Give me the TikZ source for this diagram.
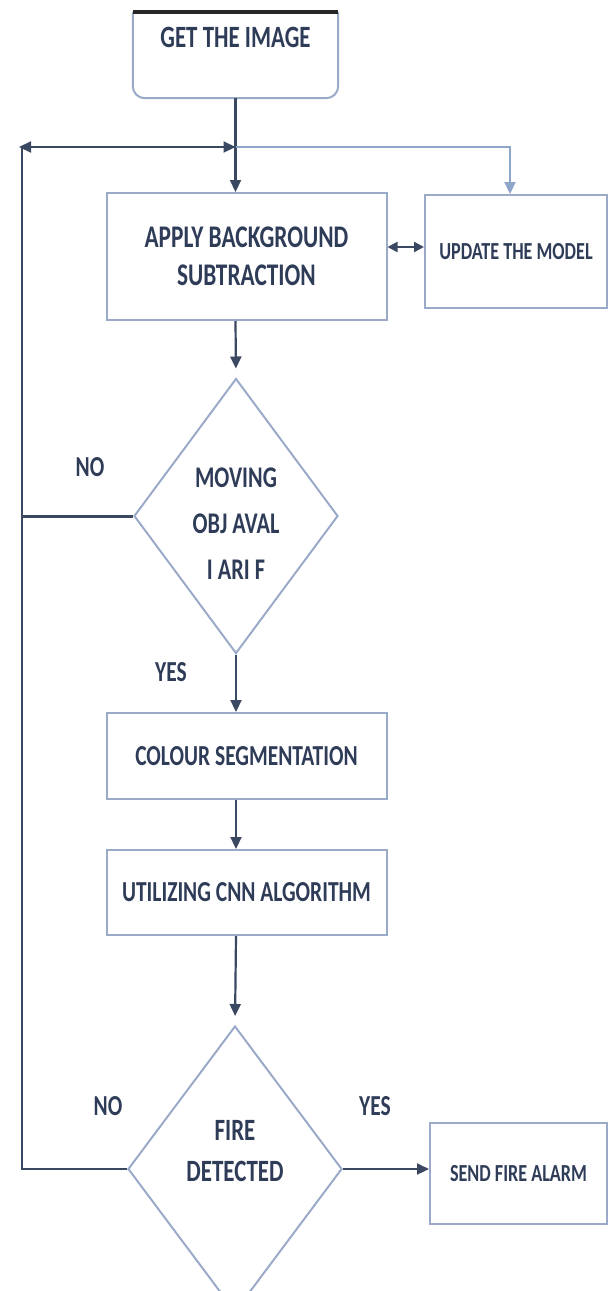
\documentclass[tikz,border=0pt]{standalone}
\usepackage{fontspec}
\setmainfont{Carlito}[FakeStretch=0.74]
\usetikzlibrary{shapes.geometric,arrows.meta,positioning}
\definecolor{boxblue}{HTML}{9AAAC8}
\definecolor{textnavy}{HTML}{2F3C58}
\definecolor{linedark}{HTML}{3B4862}
\definecolor{linelight}{HTML}{8EA6C9}

\begin{document}
\begin{tikzpicture}[x=1pt,y=-1pt,
		txt/.style={text=textnavy,font=\bfseries\fontsize{29}{32}\selectfont,align=center,inner sep=0pt},
		sidetxt/.style={txt,font=\bfseries\fontsize{24.5}{28}\selectfont},
		box/.style={txt,draw=boxblue,line width=2pt,minimum width=280pt,minimum height=86pt},
		decision/.style={draw=boxblue,line width=2pt,shape=diamond,inner sep=0pt},
		link/.style={draw=linedark,line width=2.2pt},
		flow/.style={link,-{Triangle[width=11pt,length=12pt]}}]
		\useasboundingbox (0,0) rectangle (610,1291);
		\clip (0,0) rectangle (610,1291);
		\node[minimum width=205pt,minimum height=86pt] (get) at (235.5,55) {};
		\node[txt,font=\bfseries\fontsize{31}{32}\selectfont] (gettxt) at (235.5,37) {GET THE IMAGE};
		\draw[draw=boxblue,line width=2pt,rounded corners=12pt] (get.north west) -- (get.south west) -- (get.south east) -- (get.north east);
		\draw[line width=4pt,draw=black!85] (get.north west) -- (get.north east);
		\node[box,minimum height=127pt,font=\bfseries\fontsize{31.5}{38}\selectfont] (apply) at (246.5,256.5) {APPLY BACKGROUND\\SUBTRACTION};
		\node[box,sidetxt,minimum width=182pt,minimum height=113pt] (update) at (516,251.5) {UPDATE THE MODEL};
		\node[decision,minimum width=204pt,minimum height=275pt] (moving) at (236,516) {};
		\node[txt,font=\bfseries\fontsize{30}{46}\selectfont] (movingtxt) at (236,524) {MOVING\\OBJ AVAL\\I ARI F};
		\node[box] (colour) at (246.5,756) {COLOUR SEGMENTATION};
		\node[box,minimum height=85pt] (util) at (246.5,892.5) {UTILIZING CNN ALGORITHM};
		\node[decision,minimum width=214pt,minimum height=286pt] (fire) at (235,1169) {};
		\node[txt,font=\bfseries\fontsize{31}{41}\selectfont] (firetxt) at (235,1151) {FIRE\\DETECTED};
		\node[box,sidetxt,minimum width=177pt,minimum height=101pt] (send) at (518.5,1173.5) {SEND FIRE ALARM};
		% yes / no labels
		\node[txt] (no1) at (90,467) {NO};
		\node[txt] (yes1) at (171,672) {YES};
		\node[txt] (no2) at (108,1106) {NO};
		\node[txt] (yes2) at (375,1106) {YES};
		\coordinate (split) at (235.5,147);
		\coordinate (loop) at (19,147);
		\coordinate (turn) at (510,147);
		% connectors
		\draw[flow] (get.south) -- (get.south |- apply.north);
		\draw[flow,draw=linelight] (split) -- (turn) -- (turn |- update.north);
		\draw[link,{Triangle[width=11pt,length=12pt]}-{Triangle[width=11pt,length=12pt]}] (loop) -- (split);
		\draw[flow,{Triangle[width=10pt,length=10pt]}-{Triangle[width=10pt,length=10pt]}] (apply.east |- 0,247) -- (update.west |- 0,247);
		\draw[link] (22,147) -- (fire.west -| 22,0) -- (fire.west);
		\draw[link,line width=3pt] (moving.west) -- (moving.west -| 22,0);
		\draw[flow,shorten >=9pt] (split |- apply.south) -- (moving.north);
		\draw[flow] (moving.south) -- (moving.south |- colour.north);
		\draw[flow] (moving.south |- colour.south) -- (moving.south |- util.north);
		\draw[flow,shorten >=9pt] (moving.south |- util.south) -- (fire.north);
		\draw[flow] (fire.east) -- (fire.east -| send.west);
	\end{tikzpicture}
\end{document}
